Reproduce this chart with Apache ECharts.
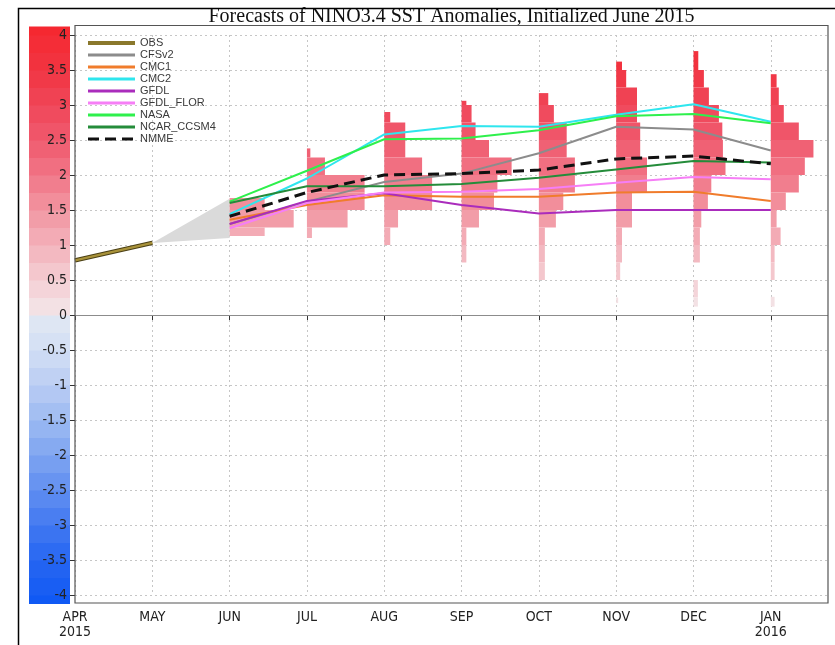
<!DOCTYPE html>
<html>
<head>
<meta charset="utf-8">
<script src="https://cdn.jsdelivr.net/npm/echarts@6/dist/echarts.min.js"></script>
<style>
  html, body { margin: 0; padding: 0; background: #fff; }
  #chart { width: 835px; height: 645px; }
</style>
</head>
<body>
<div id="chart"></div>
<script>
// ---- data -------------------------------------------------------------
// x positions are month indices: APR 2015 = 0 ... JAN 2016 = 9
const MONTHS = ['APR', 'MAY', 'JUN', 'JUL', 'AUG', 'SEP', 'OCT', 'NOV', 'DEC', 'JAN'];
const YEARS = ['2015', '', '', '', '', '', '', '', '', '2016'];

// observed anomaly (APR, MAY)
const OBS_MONTHS = [0, 1];
const OBS = [0.78, 1.03];

// model forecasts, JUN .. JAN
const FC_MONTHS = [2, 3, 4, 5, 6, 7, 8, 9];
const CFSV2 = [1.30, 1.62, 1.90, 2.02, 2.31, 2.69, 2.65, 2.35];
const CMC1 = [1.36, 1.57, 1.71, 1.69, 1.69, 1.75, 1.76, 1.63];
const CMC2 = [1.44, 1.95, 2.58, 2.70, 2.69, 2.86, 3.01, 2.76];
const GFDL = [1.30, 1.63, 1.74, 1.57, 1.45, 1.50, 1.50, 1.50];
const GFDL_FLOR = [1.24, 1.60, 1.75, 1.76, 1.80, 1.89, 1.97, 1.94];
const NASA = [1.62, 2.06, 2.51, 2.52, 2.64, 2.84, 2.87, 2.74];
const NCAR_CCSM4 = [1.60, 1.84, 1.84, 1.87, 1.96, 2.08, 2.20, 2.18];
const NMME = [1.41, 1.75, 2.00, 2.02, 2.07, 2.23, 2.27, 2.16];

// spread wedge from the last observation to the first lead
const SPREAD_MONTHS = [1, 2];
const SPREAD_LO = [1.03, 1.10];
const SPREAD_HI = [1.03, 1.66];

// ensemble member distributions: [bin low, bin high, percent of members]
const HIST_JUN = [[1.50, 1.67, 17.5], [1.25, 1.50, 32.0], [1.13, 1.25, 17.5]];
const HIST_JUL = [[2.25, 2.38, 1.7], [2.00, 2.25, 9.0], [1.75, 2.00, 28.8], [1.50, 1.75, 28.8],
                  [1.25, 1.50, 20.3], [1.10, 1.25, 2.5]];
const HIST_AUG = [[2.75, 2.90, 3.0], [2.50, 2.75, 10.5], [2.25, 2.50, 10.5], [2.00, 2.25, 18.9],
                  [1.75, 2.00, 23.9], [1.50, 1.75, 23.9], [1.25, 1.50, 6.9], [1.00, 1.25, 3.0]];
const HIST_SEP = [[3.00, 3.06, 2.4], [2.75, 3.00, 5.0], [2.50, 2.75, 7.0], [2.25, 2.50, 13.7],
                  [2.00, 2.25, 25.0], [1.75, 2.00, 17.9], [1.50, 1.75, 16.2], [1.25, 1.50, 8.7],
                  [1.00, 1.25, 2.4], [0.75, 1.00, 2.4]];
const HIST_OCT = [[3.00, 3.17, 4.7], [2.75, 3.00, 7.5], [2.50, 2.75, 13.9], [2.25, 2.50, 13.9],
                  [2.00, 2.25, 18.0], [1.75, 2.00, 18.0], [1.50, 1.75, 12.2], [1.25, 1.50, 8.5],
                  [1.00, 1.25, 3.0], [0.75, 1.00, 3.0], [0.50, 0.75, 3.0]];
const HIST_NOV = [[3.50, 3.62, 2.9], [3.25, 3.50, 5.0], [3.00, 3.25, 10.4], [2.75, 3.00, 10.4],
                  [2.50, 2.75, 12.0], [2.25, 2.50, 12.0], [2.00, 2.25, 15.4], [1.75, 2.00, 15.4],
                  [1.50, 1.75, 7.9], [1.25, 1.50, 7.9], [1.00, 1.25, 2.9], [0.75, 1.00, 2.9],
                  [0.50, 0.75, 2.0], [0.17, 0.25, 1.0]];
const HIST_DEC = [[3.50, 3.77, 2.4], [3.25, 3.50, 5.2], [3.00, 3.25, 7.7], [2.75, 3.00, 12.7],
                  [2.50, 2.75, 14.4], [2.25, 2.50, 14.7], [2.00, 2.25, 16.0], [1.75, 2.00, 8.9],
                  [1.50, 1.75, 7.2], [1.25, 1.50, 3.9], [1.00, 1.25, 3.2], [0.75, 1.00, 3.2],
                  [0.25, 0.50, 2.2], [0.12, 0.25, 2.2]];
const HIST_JAN = [[3.25, 3.44, 2.9], [3.00, 3.25, 4.0], [2.75, 3.00, 6.5], [2.50, 2.75, 14.0],
                  [2.25, 2.50, 21.3], [2.00, 2.25, 17.0], [1.75, 2.00, 14.0], [1.50, 1.75, 7.5],
                  [1.25, 1.50, 2.9], [1.00, 1.25, 4.9], [0.75, 1.00, 1.9], [0.50, 0.75, 1.9],
                  [0.12, 0.26, 1.9]];
const HISTS = [[2, HIST_JUN], [3, HIST_JUL], [4, HIST_AUG], [5, HIST_SEP], [6, HIST_OCT],
               [7, HIST_NOV], [8, HIST_DEC], [9, HIST_JAN]];

// ---- styling ----------------------------------------------------------
const HIST_SCALE = 0.0259;        // months of bar length per percent
const BAND = 0.25;                // colour band width (deg C)
const CBAR_LIMIT = 4.12;          // colour bar reaches slightly past the axis range
const NARROW = "'Liberation Sans Narrow', 'DejaVu Sans Condensed', 'Liberation Sans', sans-serif";

const POS_STOPS = [[0.0, [243, 231, 233]], [0.5, [244, 206, 211]], [1.0, [243, 178, 187]],
                   [1.5, [242, 150, 162]], [2.0, [241, 118, 135]], [2.5, [240, 90, 110]],
                   [3.0, [240, 70, 88]], [3.5, [241, 52, 66]], [4.25, [246, 38, 44]]];
const NEG_STOPS = [[0.0, [226, 232, 243]], [0.5, [210, 222, 244]], [1.0, [186, 205, 243]],
                   [1.5, [156, 186, 242]], [2.0, [126, 164, 241]], [2.5, [96, 142, 241]],
                   [3.0, [66, 120, 241]], [3.5, [38, 102, 242]], [4.25, [12, 86, 244]]];

function interp(stops, v) {
  for (let i = 1; i < stops.length; i++) {
    if (v <= stops[i][0]) {
      const [v0, c0] = stops[i - 1], [v1, c1] = stops[i];
      const t = (v - v0) / (v1 - v0);
      return 'rgb(' + c0.map((c, k) => Math.round(c + (c1[k] - c) * t)).join(',') + ')';
    }
  }
  return 'rgb(' + stops[stops.length - 1][1].join(',') + ')';
}
// colour of the 0.25-wide band containing a value
function bandColor(lo) {
  const k = Math.floor(lo / BAND + 1e-6);
  const mid = (k + 0.5) * BAND;
  return mid >= 0 ? interp(POS_STOPS, mid) : interp(NEG_STOPS, -mid);
}

// ---- series -----------------------------------------------------------
function pairs(xs, ys) { return ys.map((v, i) => [xs[i], v]); }

function lineSeries(name, values, color, width, extra) {
  return Object.assign({
    name: name, type: 'line', data: pairs(FC_MONTHS, values),
    symbol: 'none', z: 4, silent: true,
    lineStyle: { color: color, width: width }, itemStyle: { color: color }
  }, extra || {});
}

const histData = [];
HISTS.forEach(([m, bins]) => bins.forEach(b => histData.push([m, b[0], b[1], b[2]])));

const cbarData = [];
for (let k = -17; k < 17; k++) {
  const lo = Math.max(k * BAND, -CBAR_LIMIT), hi = Math.min((k + 1) * BAND, CBAR_LIMIT);
  cbarData.push([k * BAND, lo, hi]);
}

const plotTop = 25.5, plotBottom = 603, plotLeft = 75, plotRight = 828;

const chart = echarts.init(document.getElementById('chart'), null, { renderer: 'canvas' });
chart.setOption({
  animation: false,
  backgroundColor: '#fff',
  title: {
    text: 'Forecasts of NINO3.4 SST Anomalies, Initialized June 2015',
    left: (plotLeft + plotRight) / 2, top: 7, textAlign: 'center', padding: 0,
    textStyle: { fontFamily: "'Liberation Serif', 'DejaVu Serif', serif", fontSize: 20,
                 fontWeight: 'normal', color: '#111' }
  },
  legend: {
    orient: 'vertical', left: 86, top: 37, padding: 0, itemGap: 0,
    itemWidth: 47, itemHeight: 12, selectedMode: false,
    itemStyle: { opacity: 0 },
    lineStyle: { width: 3 },
    data: [{ name: 'OBS', lineStyle: { width: 4, color: '#8a782c' } },
           'CFSv2', 'CMC1', 'CMC2', 'GFDL', 'GFDL_FLOR', 'NASA', 'NCAR_CCSM4', 'NMME'],
    textStyle: { fontFamily: "'Liberation Sans', Arial, sans-serif", fontSize: 11,
                 color: '#3a3a3a', lineHeight: 12 }
  },
  grid: [
    { left: plotLeft, right: 835 - plotRight, top: 35, bottom: 50 },
    { left: 29, width: 41, top: 35, bottom: 50 }
  ],
  xAxis: [
    {
      type: 'value', gridIndex: 0, min: 0, max: 9.74, interval: 1, offset: 8,
      axisLine: { show: false },
      axisTick: { show: true, length: 5, lineStyle: { color: '#333' },
                  customValues: MONTHS.map((m, i) => i) },
      axisLabel: {
        customValues: MONTHS.map((m, i) => i), margin: 7,
        fontFamily: NARROW, fontSize: 14, lineHeight: 15, color: '#222',
        formatter: v => {
          const i = Math.round(v);
          if (Math.abs(v - i) > 1e-6 || i < 0 || i >= MONTHS.length) return '';
          return YEARS[i] ? MONTHS[i] + '\n' + YEARS[i] : MONTHS[i];
        }
      },
      splitLine: { show: true, lineStyle: { type: [2, 3], color: '#c6c6c6', width: 1 } }
    },
    { type: 'value', gridIndex: 1, min: 0, max: 1, show: false }
  ],
  yAxis: [
    {
      type: 'value', gridIndex: 0, min: -4, max: 4, interval: 0.5,
      axisLine: { show: false },
      axisTick: { show: true, length: 5, lineStyle: { color: '#333' } },
      axisLabel: { margin: 8, fontFamily: NARROW, fontSize: 14, color: '#222',
                   formatter: v => String(v) },
      splitLine: { show: true, lineStyle: { type: [2, 3], color: '#c6c6c6', width: 1 } }
    },
    { type: 'value', gridIndex: 1, min: -4, max: 4, show: false }
  ],
  series: [
    // colour scale strip beside the y axis
    {
      type: 'custom', xAxisIndex: 1, yAxisIndex: 1, z: -1, silent: true, clip: false,
      data: cbarData,
      renderItem: (params, api) => {
        const a = api.coord([0, api.value(2)]), b = api.coord([1, api.value(1)]);
        return { type: 'rect', shape: { x: a[0], y: a[1], width: b[0] - a[0], height: b[1] - a[1] + 0.5 },
                 style: { fill: bandColor(api.value(0)) } };
      }
    },
    // spread wedge
    {
      type: 'custom', silent: true, z: 2, data: [0],
      renderItem: (params, api) => {
        const pts = [];
        SPREAD_MONTHS.forEach((m, i) => pts.push(api.coord([m, SPREAD_HI[i]])));
        for (let i = SPREAD_MONTHS.length - 1; i >= 0; i--) pts.push(api.coord([SPREAD_MONTHS[i], SPREAD_LO[i]]));
        return { type: 'polygon', shape: { points: pts }, style: { fill: '#dadada' } };
      }
    },
    // member distributions
    {
      type: 'custom', silent: true, z: 2, data: histData,
      encode: { x: 0, y: [1, 2] },
      renderItem: (params, api) => {
        const m = api.value(0), lo = api.value(1), hi = api.value(2), p = api.value(3);
        const a = api.coord([m, hi]), b = api.coord([m + p * HIST_SCALE, lo]);
        return { type: 'rect', shape: { x: a[0], y: a[1], width: b[0] - a[0], height: b[1] - a[1] },
                 style: { fill: bandColor(lo) } };
      }
    },
    // observations: dark edge under an olive core
    {
      name: 'OBS outline', type: 'line', data: pairs(OBS_MONTHS, OBS), symbol: 'none', z: 3,
      silent: true, lineStyle: { color: '#4a3f14', width: 4.5 },
      markLine: { silent: true, symbol: 'none', label: { show: false },
                  lineStyle: { color: '#8c8c8c', width: 1, type: 'solid' }, data: [{ yAxis: 0 }] }
    },
    {
      name: 'OBS', type: 'line', data: pairs(OBS_MONTHS, OBS), symbol: 'none', z: 4,
      silent: true, lineStyle: { color: '#a8923a', width: 2.5 }, itemStyle: { color: '#8a782c' }
    },
    lineSeries('CFSv2', CFSV2, '#8c8c8c', 2),
    lineSeries('CMC1', CMC1, '#f07c2c', 2),
    lineSeries('CMC2', CMC2, '#2ee6ee', 2),
    lineSeries('GFDL', GFDL, '#aa2cbc', 2),
    lineSeries('GFDL_FLOR', GFDL_FLOR, '#f67ef6', 2),
    lineSeries('NASA', NASA, '#2ef04c', 2),
    lineSeries('NCAR_CCSM4', NCAR_CCSM4, '#248c3a', 2),
    lineSeries('NMME', NMME, '#111111', 3, { z: 5, lineStyle: { color: '#111111', width: 3, type: [11, 6] } })
  ],
  graphic: [
    { type: 'rect', silent: true, z: 50,
      shape: { x: plotLeft, y: plotTop, width: plotRight - plotLeft, height: plotBottom - plotTop },
      style: { fill: null, stroke: '#555', lineWidth: 1.2 } },
    { type: 'polyline', silent: true, z: 50,
      shape: { points: [[18.5, 645], [18.5, 8.5], [835, 8.5]] },
      style: { fill: null, stroke: '#000', lineWidth: 1.5 } }
  ]
});
</script>
</body>
</html>
